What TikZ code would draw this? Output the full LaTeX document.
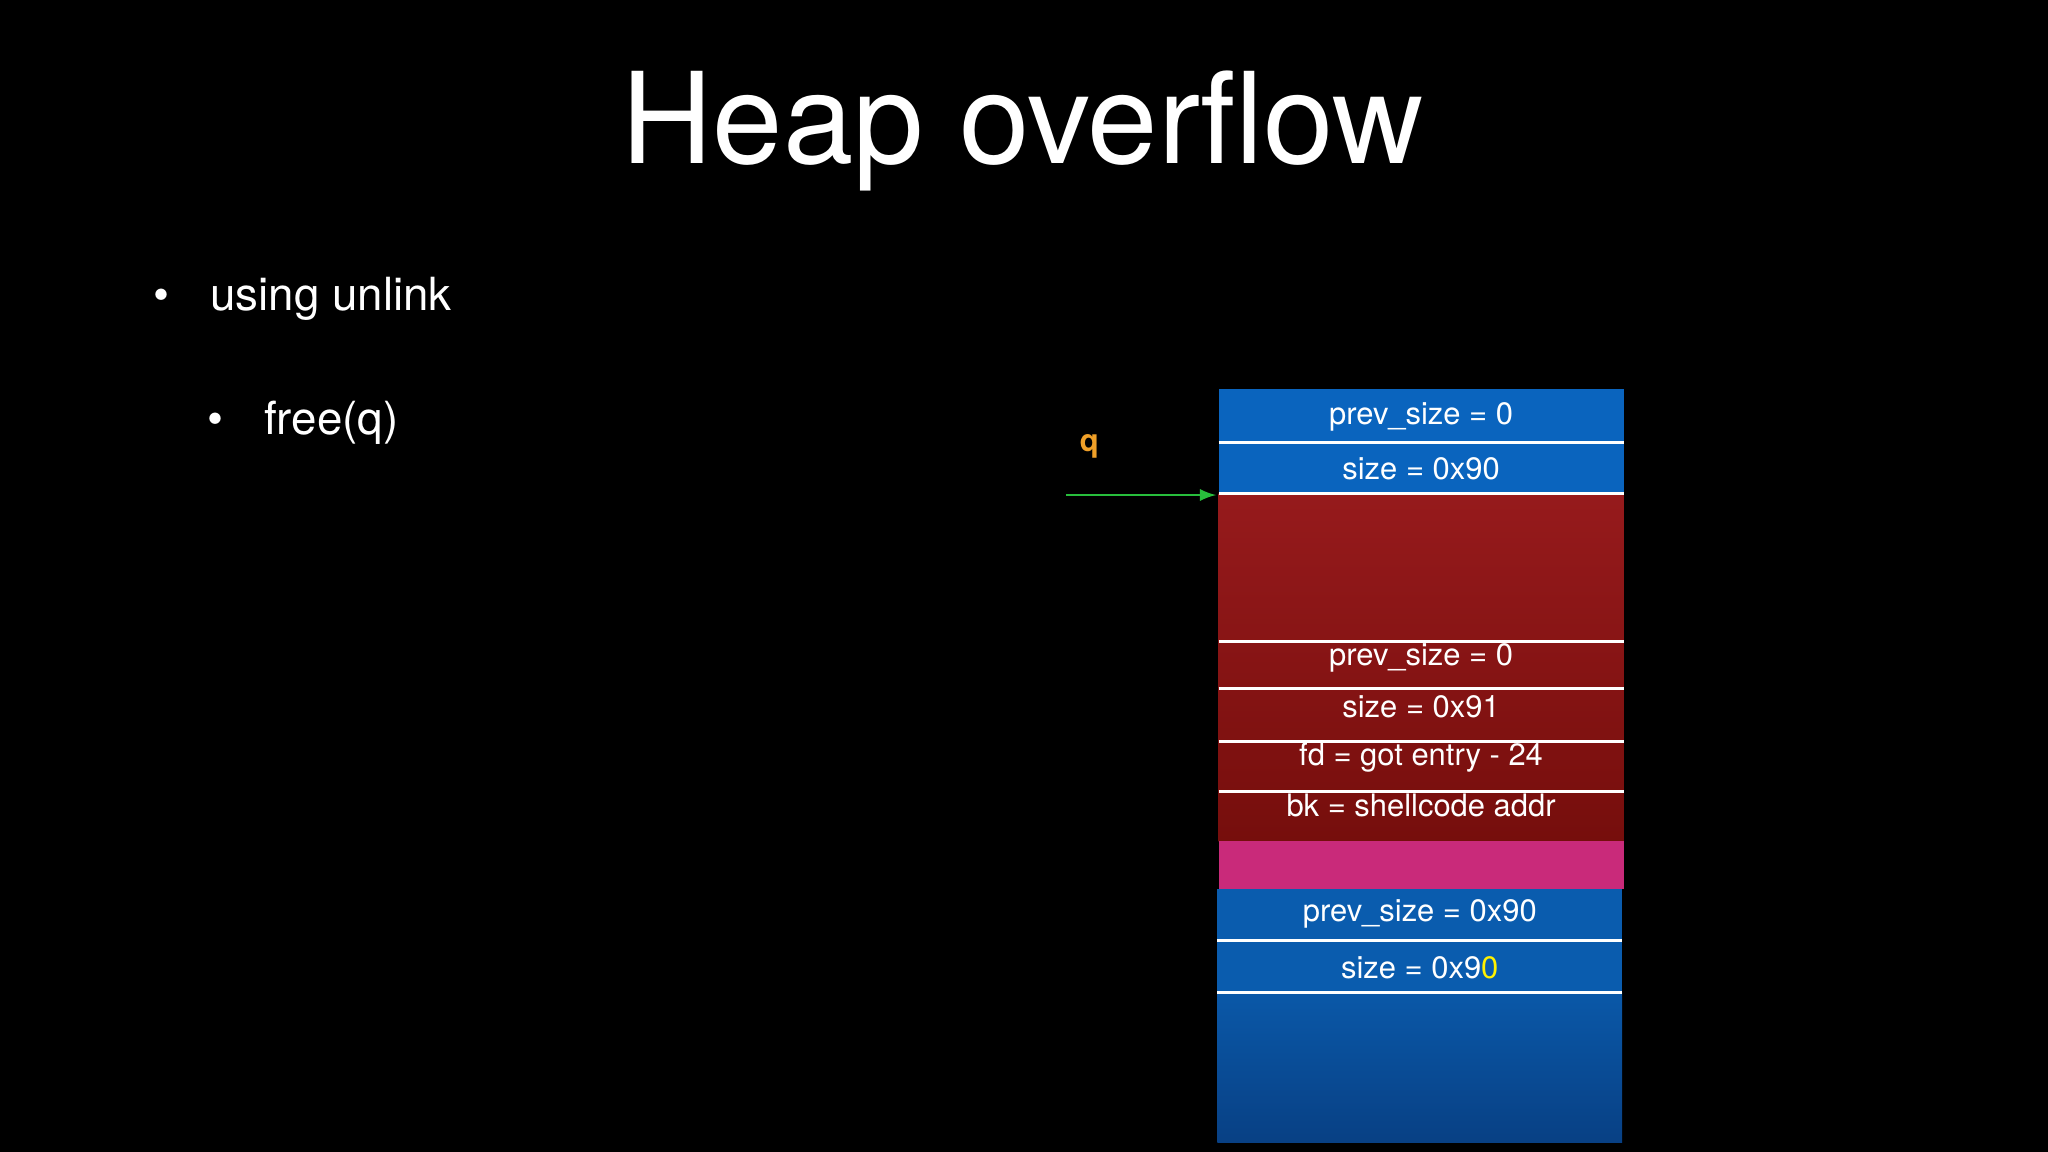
\documentclass[tikz,border=0pt]{standalone}
\usepackage{fontspec}
\setmainfont{TeX Gyre Heros}
\begin{document}
\begin{tikzpicture}[x=0.01306cm,y=-0.01306cm,
  sep/.style={draw=white,line width=0.8pt},
  cell/.style={text=white,font=\fontsize{8.8}{10}\selectfont,anchor=center}]
\useasboundingbox[fill=black] (0,0) rectangle (1568,882);
\node[text=white,font=\fontsize{36}{40}\selectfont] (title) at (783,100) {Heap overflow};
\node[text=white,font=\fontsize{13}{15}\selectfont,anchor=west] (b1) at (108,229) {\textbullet\hspace{0.9em}using unlink};
\node[text=white,font=\fontsize{13}{15}\selectfont,anchor=west] (b2) at (149,324) {\textbullet\hspace{0.9em}free(q)};
% stack
\fill[color={rgb,255:red,10;green,100;blue,190}] (933,298) rectangle (1243,378);
\shade[top color={rgb,255:red,150;green,26;blue,28},bottom color={rgb,255:red,118;green,14;blue,12}] (933,378) rectangle (1243,644);
\fill[color={rgb,255:red,201;green,42;blue,122}] (933,644) rectangle (1243,681);
\fill[color={rgb,255:red,10;green,92;blue,174}] (932,681) rectangle (1242,760);
\shade[top color={rgb,255:red,10;green,88;blue,168},bottom color={rgb,255:red,8;green,64;blue,132}] (932,760) rectangle (1242,875);
\foreach \y in {339,378,491,527,568,606} \draw[sep] (933,\y) -- (1243,\y);
\foreach \y in {720,760} \draw[sep] (932,\y) -- (1242,\y);
\node[cell] (c1) at (1088,319) {prev\_size = 0};
\node[cell] (c2) at (1088,359) {size = 0x90};
\node[cell] (c3) at (1088,504) {prev\_size = 0};
\node[cell] (c4) at (1088,541) {size = 0x91};
\node[cell] (c5) at (1088,580) {fd = got entry - 24};
\node[cell] (c6) at (1088,617) {bk = shellcode addr};
\node[cell] (c7) at (1087,700) {prev\_size = 0x90};
\node[cell] (c8) at (1087,741) {size = 0x9\textcolor{yellow}{0}};
\node[text={rgb,255:red,240;green,160;blue,40},font=\bfseries\fontsize{8.8}{10}\selectfont] (q) at (834,342) {q};
\coordinate (qs) at (816,379);
\coordinate (qe) at (931,379);
\draw[-latex,color={rgb,255:red,40;green,190;blue,60},line width=0.6pt] (qs) -- (qe);
\end{tikzpicture}
\end{document}
